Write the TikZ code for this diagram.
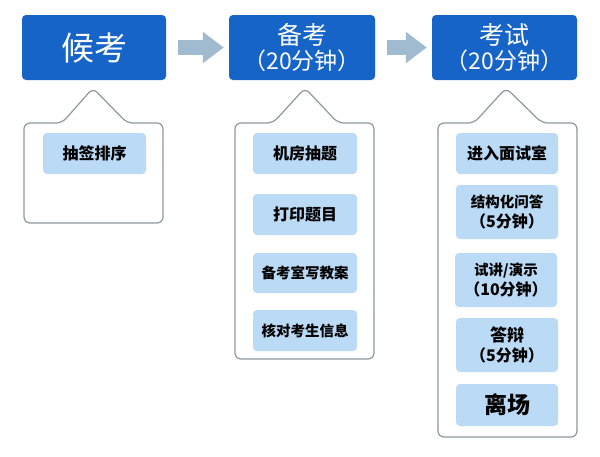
\documentclass[tikz,border=0pt]{standalone}
\usepackage{fontspec}
\newfontfamily\cjk{Noto Sans CJK SC}
\usetikzlibrary{arrows.meta}
\definecolor{headblue}{RGB}{22,100,200}
\definecolor{itemblue}{RGB}{186,218,246}
\definecolor{arrowgray}{RGB}{160,186,208}
\definecolor{framegray}{RGB}{140,152,162}
\tikzset{
  head/.style={fill=headblue, rounded corners=4pt, text=white, inner sep=0pt,
    align=center, font=\cjk\fontsize{23}{25}\selectfont},
  item/.style={fill=itemblue, rounded corners=4pt, inner sep=0pt, align=center,
    font=\cjk\bfseries\fontsize{16}{20}\selectfont},
  callout/.style={draw=framegray, line width=1.2pt, fill=white, rounded corners=6pt},
  fatarrow/.style={draw=arrowgray, line width=15pt,
    -{Triangle[length=21pt,width=30pt]}, shorten <=12pt, shorten >=5pt}
}
\begin{document}
\begin{tikzpicture}[x=1pt, y=-1pt]
  \useasboundingbox (0,0) rectangle (600,456);

  % headers
  \node[head, minimum width=144pt, minimum height=65pt] (h1) at (94,47.5)
    {\fontsize{33}{36}\selectfont 候考};
  \node[head, minimum width=146pt, minimum height=65pt] (h2) at (302,47.5)
    {{\fontsize{25}{25}\selectfont 备考}\\（20分钟）};
  \node[head, minimum width=145pt, minimum height=65pt] (h3) at (504.5,47.5)
    {{\fontsize{25}{25}\selectfont 考试}\\（20分钟）};

  \draw[fatarrow] (h1) -- (h2);
  \draw[fatarrow] (h2) -- (h3);

  % callout frames
  \draw[callout] (24,123) -- (62,123) -- (93,88) -- (127,123) -- (163,123)
    -- (163,223) -- (24,223) -- cycle;
  \draw[callout] (235,123) -- (273,123) -- (305,88) -- (338,123) -- (374,123)
    -- (374,359) -- (235,359) -- cycle;
  \draw[callout] (438,123) -- (474,123) -- (506,88) -- (542,123) -- (577,123)
    -- (577,437) -- (438,437) -- cycle;

  % items
  \node[item, minimum width=103pt, minimum height=41pt] (a1) at (94.5,153.5) {抽签排序};

  \node[item, minimum width=104pt, minimum height=41pt] (b1) at (305,153.5) {机房抽题};
  \node[item, minimum width=104pt, minimum height=41pt] (b2) at (305,214.5) {打印题目};
  \node[item, minimum width=104pt, minimum height=40pt] (b3) at (305,273)
    {\fontsize{14.5}{19}\selectfont 备考室写教案};
  \node[item, minimum width=104pt, minimum height=41pt] (b4) at (305,330.5)
    {\fontsize{14.5}{19}\selectfont 核对考生信息};

  \node[item, minimum width=102pt, minimum height=41pt] (c1) at (507,153.5) {进入面试室};
  \node[item, minimum width=102pt, minimum height=54pt] (c2) at (507,212)
    {\fontsize{14.5}{20}\selectfont 结构化问答\\（5分钟）};
  \node[item, minimum width=102pt, minimum height=54pt] (c3) at (506,280)
    {\fontsize{14.5}{20}\selectfont 试讲/演示\\（10分钟）};
  \node[item, minimum width=102pt, minimum height=54pt] (c4) at (507,345)
    {\fontsize{17}{22}\selectfont 答辩\\（5分钟）};
  \node[item, minimum width=102pt, minimum height=42pt] (c5) at (507,405)
    {\fontsize{23}{25}\selectfont 离场};

\end{tikzpicture}
\end{document}
